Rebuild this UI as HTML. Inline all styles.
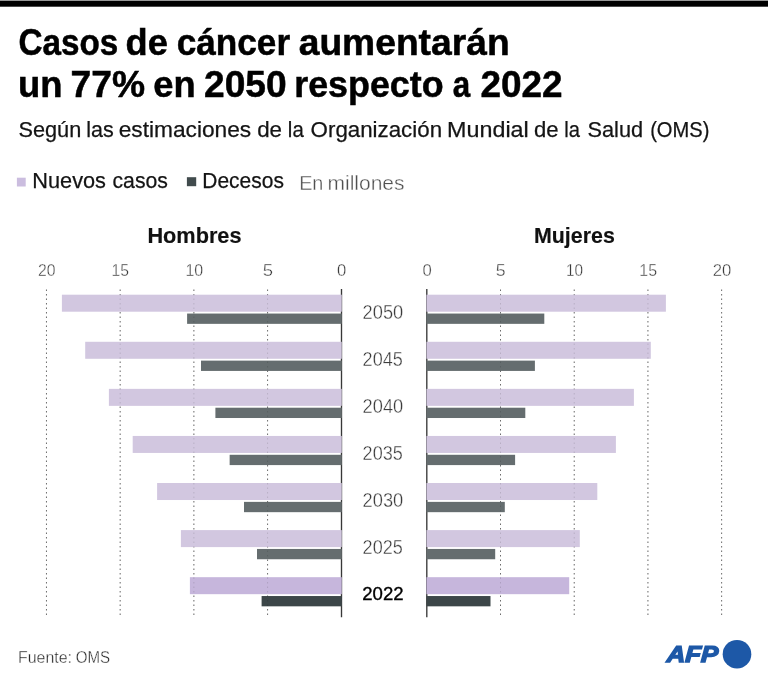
<!DOCTYPE html>
<html lang="es">
<head>
<meta charset="utf-8">
<title>Casos de cáncer aumentarán un 77% en 2050 respecto a 2022</title>
<style>
html,body{margin:0;padding:0;background:#fff;}
body{width:768px;height:680px;overflow:hidden;}
svg{display:block;will-change:transform;}
</style>
</head>
<body>
<svg width="768" height="680" viewBox="0 0 768 680" font-family='"Liberation Sans", sans-serif'>
<rect x="0" y="0" width="768" height="680" fill="#fff"/>
<rect x="0" y="0" width="768" height="1" fill="#979797"/>
<rect x="0" y="1" width="768" height="5.7" fill="#000"/>
<text y="54.7" font-size="36.6" font-weight="bold" fill="#000" stroke="#000" stroke-width="0.5"><tspan x="18.41" textLength="99.84" lengthAdjust="spacingAndGlyphs">Casos</tspan> <tspan x="125.58" textLength="42.22" lengthAdjust="spacingAndGlyphs">de</tspan> <tspan x="176.68" textLength="113.41" lengthAdjust="spacingAndGlyphs">cáncer</tspan> <tspan x="298.70" textLength="210.93" lengthAdjust="spacingAndGlyphs">aumentarán</tspan></text>
<text y="96.8" font-size="36.6" font-weight="bold" fill="#000" stroke="#000" stroke-width="0.5"><tspan x="18.08" textLength="44.49" lengthAdjust="spacingAndGlyphs">un</tspan> <tspan x="70.55" textLength="74.48" lengthAdjust="spacingAndGlyphs">77%</tspan> <tspan x="153.35" textLength="42.34" lengthAdjust="spacingAndGlyphs">en</tspan> <tspan x="203.98" textLength="82.67" lengthAdjust="spacingAndGlyphs">2050</tspan> <tspan x="294.21" textLength="149.36" lengthAdjust="spacingAndGlyphs">respecto</tspan> <tspan x="452.64" textLength="17.44" lengthAdjust="spacingAndGlyphs">a</tspan> <tspan x="480.44" textLength="82.14" lengthAdjust="spacingAndGlyphs">2022</tspan></text>
<text y="137.0" font-size="21.6" font-weight="normal" fill="#141414" stroke="#141414" stroke-width="0.25"><tspan x="18.49" textLength="62.78" lengthAdjust="spacingAndGlyphs">Según</tspan> <tspan x="86.31" textLength="27.47" lengthAdjust="spacingAndGlyphs">las</tspan> <tspan x="118.70" textLength="132.50" lengthAdjust="spacingAndGlyphs">estimaciones</tspan> <tspan x="257.18" textLength="24.87" lengthAdjust="spacingAndGlyphs">de</tspan> <tspan x="287.86" textLength="15.86" lengthAdjust="spacingAndGlyphs">la</tspan> <tspan x="310.62" textLength="131.43" lengthAdjust="spacingAndGlyphs">Organización</tspan> <tspan x="447.13" textLength="81.60" lengthAdjust="spacingAndGlyphs">Mundial</tspan> <tspan x="534.04" textLength="24.60" lengthAdjust="spacingAndGlyphs">de</tspan> <tspan x="564.34" textLength="15.66" lengthAdjust="spacingAndGlyphs">la</tspan> <tspan x="587.52" textLength="55.55" lengthAdjust="spacingAndGlyphs">Salud</tspan> <tspan x="650.14" textLength="59.21" lengthAdjust="spacingAndGlyphs">(OMS)</tspan></text>
<rect x="16.9" y="177.7" width="8.8" height="8.8" fill="#cbbddf"/>
<text y="187.6" font-size="21.8" font-weight="normal" fill="#141414" stroke="#141414" stroke-width="0.25"><tspan x="32.34" textLength="73.59" lengthAdjust="spacingAndGlyphs">Nuevos</tspan> <tspan x="112.47" textLength="55.45" lengthAdjust="spacingAndGlyphs">casos</tspan></text>
<rect x="186.9" y="177.2" width="9.3" height="9" fill="#414b4d"/>
<text y="187.6" font-size="21.8" font-weight="normal" fill="#141414" stroke="#141414" stroke-width="0.25"><tspan x="202.32" textLength="81.57" lengthAdjust="spacingAndGlyphs">Decesos</tspan></text>
<text y="189.5" font-size="20.4" font-weight="normal" fill="#505050" stroke="#fff" stroke-width="0.35"><tspan x="299.15" textLength="24.24" lengthAdjust="spacingAndGlyphs">En</tspan> <tspan x="327.50" textLength="77.03" lengthAdjust="spacingAndGlyphs">millones</tspan></text>
<text y="243.4" font-size="22.2" font-weight="bold" fill="#111" stroke="#111" stroke-width="0.15"><tspan x="147.39" textLength="94.12" lengthAdjust="spacingAndGlyphs">Hombres</tspan></text>
<text y="243.4" font-size="22.2" font-weight="bold" fill="#111" stroke="#111" stroke-width="0.15"><tspan x="533.98" textLength="80.87" lengthAdjust="spacingAndGlyphs">Mujeres</tspan></text>
<line x1="267.59" y1="289.5" x2="267.59" y2="615.8" stroke="#7c7c7c" stroke-opacity="1" stroke-width="1" stroke-dasharray="1.5 3"/>
<line x1="500.51" y1="289.5" x2="500.51" y2="615.8" stroke="#7c7c7c" stroke-opacity="1" stroke-width="1" stroke-dasharray="1.5 3"/>
<line x1="193.88" y1="289.5" x2="193.88" y2="615.8" stroke="#7c7c7c" stroke-opacity="1" stroke-width="1" stroke-dasharray="1.5 3"/>
<line x1="574.22" y1="289.5" x2="574.22" y2="615.8" stroke="#7c7c7c" stroke-opacity="1" stroke-width="1" stroke-dasharray="1.5 3"/>
<line x1="120.17" y1="289.5" x2="120.17" y2="615.8" stroke="#7c7c7c" stroke-opacity="1" stroke-width="1" stroke-dasharray="1.5 3"/>
<line x1="647.93" y1="289.5" x2="647.93" y2="615.8" stroke="#7c7c7c" stroke-opacity="1" stroke-width="1" stroke-dasharray="1.5 3"/>
<line x1="46.46" y1="289.5" x2="46.46" y2="615.8" stroke="#7c7c7c" stroke-opacity="1" stroke-width="1" stroke-dasharray="1.5 3"/>
<line x1="721.64" y1="289.5" x2="721.64" y2="615.8" stroke="#7c7c7c" stroke-opacity="1" stroke-width="1" stroke-dasharray="1.5 3"/>
<line x1="341.50" y1="289.0" x2="341.50" y2="617.3" stroke="#383838" stroke-width="1.35"/>
<line x1="426.80" y1="289.0" x2="426.80" y2="617.3" stroke="#383838" stroke-width="1.35"/>
<text x="38.00" y="276.40" font-size="16.9" font-weight="normal" fill="#3a3a3a" textLength="17.51" lengthAdjust="spacingAndGlyphs" stroke="#fff" stroke-width="0.35">20</text>
<text x="111.52" y="276.40" font-size="16.9" font-weight="normal" fill="#3a3a3a" textLength="17.46" lengthAdjust="spacingAndGlyphs" stroke="#fff" stroke-width="0.35">15</text>
<text x="185.41" y="276.40" font-size="16.9" font-weight="normal" fill="#3a3a3a" textLength="17.74" lengthAdjust="spacingAndGlyphs" stroke="#fff" stroke-width="0.35">10</text>
<text x="262.83" y="276.40" font-size="16.9" font-weight="normal" fill="#3a3a3a" textLength="10.30" lengthAdjust="spacingAndGlyphs" stroke="#fff" stroke-width="0.35">5</text>
<text x="336.92" y="276.40" font-size="16.9" font-weight="normal" fill="#3a3a3a" textLength="9.28" lengthAdjust="spacingAndGlyphs" stroke="#fff" stroke-width="0.35">0</text>
<text x="422.42" y="276.40" font-size="16.9" font-weight="normal" fill="#3a3a3a" textLength="9.29" lengthAdjust="spacingAndGlyphs" stroke="#fff" stroke-width="0.35">0</text>
<text x="495.87" y="276.40" font-size="16.9" font-weight="normal" fill="#3a3a3a" textLength="9.87" lengthAdjust="spacingAndGlyphs" stroke="#fff" stroke-width="0.35">5</text>
<text x="565.88" y="276.40" font-size="16.9" font-weight="normal" fill="#3a3a3a" textLength="17.03" lengthAdjust="spacingAndGlyphs" stroke="#fff" stroke-width="0.35">10</text>
<text x="639.34" y="276.40" font-size="16.9" font-weight="normal" fill="#3a3a3a" textLength="17.79" lengthAdjust="spacingAndGlyphs" stroke="#fff" stroke-width="0.35">15</text>
<text x="712.83" y="276.40" font-size="16.9" font-weight="normal" fill="#3a3a3a" textLength="18.56" lengthAdjust="spacingAndGlyphs" stroke="#fff" stroke-width="0.35">20</text>
<rect x="61.90" y="294.70" width="279.85" height="17.0" fill="#d2c7e0"/>
<rect x="187.10" y="313.55" width="154.65" height="10.3" fill="#656d6f"/>
<rect x="426.45" y="294.70" width="239.45" height="17.0" fill="#d2c7e0"/>
<rect x="426.45" y="313.55" width="117.85" height="10.3" fill="#656d6f"/>
<text x="362.60" y="318.50" font-size="20.3" font-weight="normal" fill="#3c3c3c" textLength="40.62" lengthAdjust="spacingAndGlyphs" stroke="#fff" stroke-width="0.35">2050</text>
<rect x="85.20" y="341.78" width="256.55" height="17.0" fill="#d2c7e0"/>
<rect x="201.00" y="360.63" width="140.75" height="10.3" fill="#656d6f"/>
<rect x="426.45" y="341.78" width="224.35" height="17.0" fill="#d2c7e0"/>
<rect x="426.45" y="360.63" width="108.45" height="10.3" fill="#656d6f"/>
<text x="362.61" y="365.58" font-size="20.3" font-weight="normal" fill="#3c3c3c" textLength="40.21" lengthAdjust="spacingAndGlyphs" stroke="#fff" stroke-width="0.35">2045</text>
<rect x="108.90" y="388.86" width="232.85" height="17.0" fill="#d2c7e0"/>
<rect x="215.40" y="407.71" width="126.35" height="10.3" fill="#656d6f"/>
<rect x="426.45" y="388.86" width="207.45" height="17.0" fill="#d2c7e0"/>
<rect x="426.45" y="407.71" width="98.85" height="10.3" fill="#656d6f"/>
<text x="362.60" y="412.66" font-size="20.3" font-weight="normal" fill="#3c3c3c" textLength="40.62" lengthAdjust="spacingAndGlyphs" stroke="#fff" stroke-width="0.35">2040</text>
<rect x="132.70" y="435.94" width="209.05" height="17.0" fill="#d2c7e0"/>
<rect x="229.65" y="454.79" width="112.10" height="10.3" fill="#656d6f"/>
<rect x="426.45" y="435.94" width="189.45" height="17.0" fill="#d2c7e0"/>
<rect x="426.45" y="454.79" width="88.65" height="10.3" fill="#656d6f"/>
<text x="362.61" y="459.74" font-size="20.3" font-weight="normal" fill="#3c3c3c" textLength="40.21" lengthAdjust="spacingAndGlyphs" stroke="#fff" stroke-width="0.35">2035</text>
<rect x="157.10" y="483.02" width="184.65" height="17.0" fill="#d2c7e0"/>
<rect x="244.00" y="501.87" width="97.75" height="10.3" fill="#656d6f"/>
<rect x="426.45" y="483.02" width="170.85" height="17.0" fill="#d2c7e0"/>
<rect x="426.45" y="501.87" width="78.35" height="10.3" fill="#656d6f"/>
<text x="362.60" y="506.82" font-size="20.3" font-weight="normal" fill="#3c3c3c" textLength="40.62" lengthAdjust="spacingAndGlyphs" stroke="#fff" stroke-width="0.35">2030</text>
<rect x="180.90" y="530.10" width="160.85" height="17.0" fill="#d2c7e0"/>
<rect x="257.00" y="548.95" width="84.75" height="10.3" fill="#656d6f"/>
<rect x="426.45" y="530.10" width="153.35" height="17.0" fill="#d2c7e0"/>
<rect x="426.45" y="548.95" width="68.75" height="10.3" fill="#656d6f"/>
<text x="362.61" y="553.90" font-size="20.3" font-weight="normal" fill="#3c3c3c" textLength="40.21" lengthAdjust="spacingAndGlyphs" stroke="#fff" stroke-width="0.35">2025</text>
<rect x="189.90" y="577.18" width="151.85" height="17.0" fill="#c6b6dc"/>
<rect x="261.60" y="596.03" width="80.15" height="10.3" fill="#3c4648"/>
<rect x="426.45" y="577.18" width="142.75" height="17.0" fill="#c6b6dc"/>
<rect x="426.45" y="596.03" width="64.05" height="10.3" fill="#3c4648"/>
<text x="362.20" y="600.08" font-size="19.0" font-weight="normal" fill="#000" textLength="41.39" lengthAdjust="spacingAndGlyphs" stroke="#000" stroke-width="0.35">2022</text>
<line x1="267.59" y1="289.5" x2="267.59" y2="615.8" stroke="#000" stroke-opacity="0.12" stroke-width="1" stroke-dasharray="1.5 3"/>
<line x1="500.51" y1="289.5" x2="500.51" y2="615.8" stroke="#000" stroke-opacity="0.12" stroke-width="1" stroke-dasharray="1.5 3"/>
<line x1="193.88" y1="289.5" x2="193.88" y2="615.8" stroke="#000" stroke-opacity="0.12" stroke-width="1" stroke-dasharray="1.5 3"/>
<line x1="574.22" y1="289.5" x2="574.22" y2="615.8" stroke="#000" stroke-opacity="0.12" stroke-width="1" stroke-dasharray="1.5 3"/>
<line x1="120.17" y1="289.5" x2="120.17" y2="615.8" stroke="#000" stroke-opacity="0.12" stroke-width="1" stroke-dasharray="1.5 3"/>
<line x1="647.93" y1="289.5" x2="647.93" y2="615.8" stroke="#000" stroke-opacity="0.12" stroke-width="1" stroke-dasharray="1.5 3"/>
<line x1="46.46" y1="289.5" x2="46.46" y2="615.8" stroke="#000" stroke-opacity="0.12" stroke-width="1" stroke-dasharray="1.5 3"/>
<line x1="721.64" y1="289.5" x2="721.64" y2="615.8" stroke="#000" stroke-opacity="0.12" stroke-width="1" stroke-dasharray="1.5 3"/>
<text y="662.6" font-size="17.2" font-weight="normal" fill="#2a2a2a" stroke="#fff" stroke-width="0.35"><tspan x="17.96" textLength="54.05" lengthAdjust="spacingAndGlyphs">Fuente:</tspan> <tspan x="75.77" textLength="34.39" lengthAdjust="spacingAndGlyphs">OMS</tspan></text>
<text x="666.53" y="661.90" font-size="22.9" font-weight="bold" fill="#1d58a7" textLength="51.16" lengthAdjust="spacingAndGlyphs" font-style="italic" stroke="#1d58a7" stroke-width="1.5" stroke-linejoin="miter" transform="translate(0,661.9) skewX(-3) translate(0,-661.9)">AFP</text>
<circle cx="737" cy="654.2" r="14.3" fill="#1d58a7"/>
</svg>
</body>
</html>
